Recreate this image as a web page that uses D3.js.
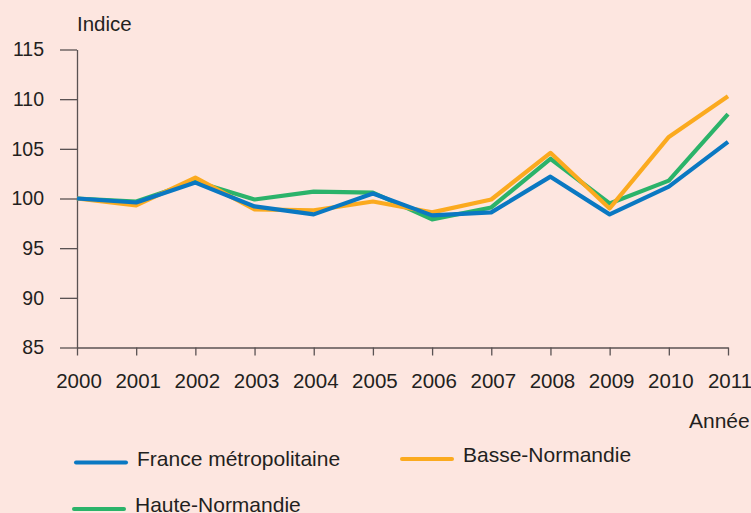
<!DOCTYPE html>
<html lang="fr">
<head>
  <meta charset="UTF-8" />
  <title>Indice</title>
  <script src="https://d3js.org/d3.v7.min.js"></script>
  <style>
    html, body {
      margin: 0;
      padding: 0;
      background: #fde6e0;
    }
    svg {
      display: block;
      font-family: "Liberation Sans", Arial, sans-serif;
    }
    .tick text {
      fill: #231f20;
    }
  </style>
</head>
<body>
  <svg id="chart" width="751" height="513"></svg>

  <script>
    const years = [2000, 2001, 2002, 2003, 2004, 2005, 2006, 2007, 2008, 2009, 2010, 2011];
    const yTicks = [85, 90, 95, 100, 105, 110, 115];

    const france = [100, 99.6, 101.6, 99.2, 98.4, 100.5, 98.3, 98.6, 102.2, 98.4, 101.2, 105.7];
    const basse  = [100, 99.3, 102.1, 98.9, 98.8, 99.7, 98.6, 99.9, 104.6, 99.0, 106.2, 110.3];
    const haute  = [100, 99.7, 101.7, 99.9, 100.7, 100.6, 97.9, 99.1, 104.0, 99.5, 101.8, 108.5];

    const series = [
      { name: "Haute-Normandie", values: haute, color: "#2bb36a" },
      { name: "Basse-Normandie", values: basse, color: "#fbaa1f" },
      { name: "France métropolitaine", values: france, color: "#0a78c2" }
    ];

    const svg = d3.select("#chart");
    const axisColor = "#5a5253";

    const x = d3.scaleLinear().domain([2000, 2011]).range([77, 728]);
    const y = d3.scaleLinear().domain([85, 115]).range([347.5, 49.5]);

    // y axis
    const yAxis = svg.append("g")
      .attr("transform", "translate(77,0)")
      .call(d3.axisLeft(y).tickValues(yTicks).tickSize(17).tickPadding(16).tickSizeOuter(0));
    yAxis.select(".domain").attr("stroke", axisColor).attr("stroke-width", 1.3);
    yAxis.selectAll(".tick line").attr("stroke", axisColor).attr("stroke-width", 1.3);
    yAxis.selectAll(".tick text").attr("font-size", 19.5);

    // x axis
    const xAxis = svg.append("g")
      .attr("transform", "translate(0,347.5)")
      .call(d3.axisBottom(x).tickValues(years).tickFormat(d3.format("d")).tickSize(8).tickPadding(18).tickSizeOuter(0));
    xAxis.select(".domain").attr("stroke", axisColor).attr("stroke-width", 1.3);
    xAxis.selectAll(".tick line").attr("stroke", axisColor).attr("stroke-width", 1.3);
    xAxis.selectAll(".tick text").attr("font-size", 20.5).attr("dx", 1.5);

    svg.append("text")
      .attr("x", 77)
      .attr("y", 31)
      .attr("font-size", 20.5)
      .attr("fill", "#231f20")
      .text("Indice");

    svg.append("text")
      .attr("x", 689)
      .attr("y", 428)
      .attr("font-size", 21)
      .attr("fill", "#231f20")
      .text("Année");

    // lines
    const line = d3.line()
      .x((d, i) => x(years[i]))
      .y(d => y(d));

    svg.selectAll(".serie")
      .data(series)
      .join("path")
      .attr("class", "serie")
      .attr("fill", "none")
      .attr("stroke", d => d.color)
      .attr("stroke-width", 4.2)
      .attr("stroke-linejoin", "round")
      .attr("d", d => line(d.values));

    // legend
    const legendItems = [
      { s: series[2], x: 76, y: 462.5 },
      { s: series[1], x: 402, y: 459 },
      { s: series[0], x: 74, y: 509 }
    ];

    const leg = svg.selectAll(".leg")
      .data(legendItems)
      .join("g")
      .attr("class", "leg")
      .attr("transform", d => `translate(${d.x},${d.y})`);

    leg.append("line")
      .attr("x1", 0)
      .attr("x2", 50)
      .attr("stroke", d => d.s.color)
      .attr("stroke-width", 4)
      .attr("stroke-linecap", "round");

    leg.append("text")
      .attr("x", 61)
      .attr("y", 3)
      .attr("font-size", 21)
      .attr("fill", "#231f20")
      .text(d => d.s.name);
  </script>
</body>
</html>
